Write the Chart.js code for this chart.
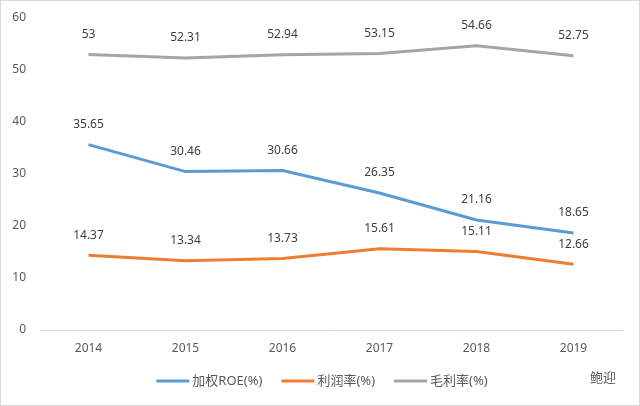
<!DOCTYPE html>
<html lang="zh">
<head>
<meta charset="UTF-8">
<title>ROE</title>
<script src="https://cdn.jsdelivr.net/npm/chart.js"></script>
<style>
    html, body { margin: 0; padding: 0; background: #fff; }
    #wrap { width: 640px; height: 406px; position: relative; }
</style>
</head>
<body>
<div id="wrap"><canvas id="c" width="640" height="406"></canvas></div>
<script>
    const years = ['2014', '2015', '2016', '2017', '2018', '2019'];
    const roe = [35.65, 30.46, 30.66, 26.35, 21.16, 18.65];
    const profitRate = [14.37, 13.34, 13.73, 15.61, 15.11, 12.66];
    const grossRate = [53, 52.31, 52.94, 53.15, 54.66, 52.75];
    const seriesNames = ['加权ROE(%)', '利润率(%)', '毛利率(%)'];
    const yTicks = [0, 10, 20, 30, 40, 50, 60];

    const FONT = '"Noto Sans", "Noto Sans CJK SC", sans-serif';

    // white background + thin frame
    const frame = {
        id: 'frame',
        beforeDraw(chart) {
            const c = chart.ctx;
            c.save();
            c.fillStyle = '#fff';
            c.fillRect(0, 0, chart.width, chart.height);
            c.strokeStyle = '#d9d9d9';
            c.lineWidth = 1;
            c.strokeRect(0.5, 0.5, chart.width - 1, chart.height - 1);
            c.restore();
        }
    };

    // value labels above each point, legend row and watermark
    const extras = {
        id: 'extras',
        afterDatasetsDraw(chart) {
            const c = chart.ctx;
            c.save();
            c.font = '12px ' + FONT;
            c.fillStyle = '#404040';
            c.textAlign = 'center';
            c.textBaseline = 'middle';
            chart.data.datasets.forEach((ds, i) => {
                chart.getDatasetMeta(i).data.forEach((pt, j) => {
                    c.fillText(String(ds.data[j]), pt.x, pt.y - 20);
                });
            });

            // legend
            c.font = '13px ' + FONT;
            const ly = 381;
            const items = chart.data.datasets.map(ds => ({
                name: ds.label, color: ds.borderColor,
                w: 36 + c.measureText(ds.label).width
            }));
            const gap = 19;
            const total = items.reduce((s, it) => s + it.w, 0) + gap * (items.length - 1);
            let x = 322 - total / 2;
            c.textAlign = 'left';
            c.fillStyle = '#595959';
            items.forEach(it => {
                c.strokeStyle = it.color;
                c.lineWidth = 3;
                c.beginPath();
                c.moveTo(x, ly);
                c.lineTo(x + 33, ly);
                c.stroke();
                c.fillText(it.name, x + 36, ly);
                x += it.w + gap;
            });

            // watermark
            c.font = '13px "Noto Sans CJK SC", sans-serif';
            c.fillStyle = '#555';
            c.fillText('鲍迎', 590, 377);
            c.restore();
        }
    };

    const colors = ['#5b9bd5', '#ed7d31', '#a5a5a5'];
    const allData = [roe, profitRate, grossRate];

    new Chart(document.getElementById('c'), {
        type: 'line',
        data: {
            labels: years,
            datasets: allData.map((d, i) => ({
                label: seriesNames[i],
                data: d,
                borderColor: colors[i],
                backgroundColor: colors[i],
                borderWidth: 3,
                pointRadius: 0,
                tension: 0,
                fill: false
            }))
        },
        options: {
            responsive: false,
            animation: false,
            layout: { autoPadding: false, padding: { left: 0, right: 18, top: 18, bottom: 36 } },
            plugins: {
                tooltip: { enabled: false },
                legend: { display: false }
            },
            scales: {
                x: {
                    offset: true,
                    afterFit(axis) { axis.height = 40; axis.paddingLeft = 0; axis.paddingRight = 0; },
                    grid: { display: false, drawTicks: false },
                    border: { color: '#d9d9d9', width: 1 },
                    ticks: { color: '#595959', padding: 11, font: { family: FONT, size: 12 } }
                },
                y: {
                    min: 0,
                    max: 60,
                    afterBuildTicks(axis) { axis.ticks = yTicks.map(v => ({ value: v })); },
                    afterFit(axis) { axis.width = 40; axis.paddingTop = 0; axis.paddingBottom = 0; },
                    grid: { display: false, drawTicks: false },
                    border: { display: false },
                    ticks: { color: '#595959', padding: 14, font: { family: FONT, size: 12 } }
                }
            }
        },
        plugins: [frame, extras]
    });
</script>
</body>
</html>
